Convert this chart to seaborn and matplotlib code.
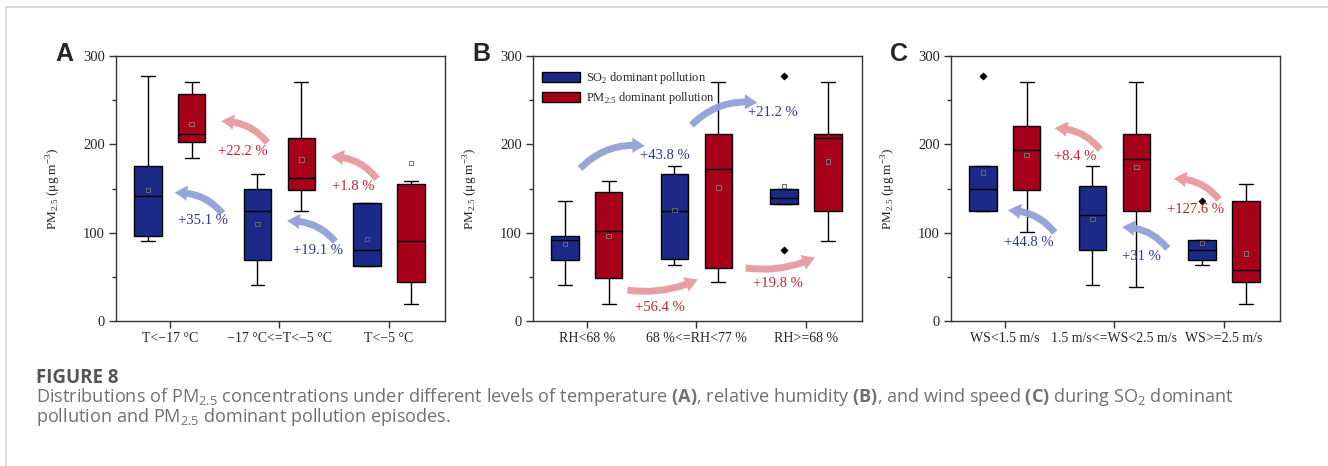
import numpy as np
import pandas as pd
import matplotlib
matplotlib.use("Agg")
import matplotlib.pyplot as plt
import seaborn as sns
from matplotlib.patches import FancyArrowPatch
from matplotlib.lines import Line2D
from matplotlib.ticker import MultipleLocator

# ---------------- data ----------------
temp_cats = ["T<\u221217 \u00b0C", "\u221217 \u00b0C<=T<\u22125 \u00b0C", "T<\u22125 \u00b0C"]
rh_cats = ["RH<68 %", "68 %<=RH<77 %", "RH>=68 %"]
ws_cats = ["WS<1.5 m/s", "1.5 m/s<=WS<2.5 m/s", "WS>=2.5 m/s"]

groups = ["SO$_2$ dominant pollution", "PM$_{2.5}$ dominant pollution"]

# five-number summaries: [lower whisker, Q1, median, Q3, upper whisker]
temp_so2 = [[91, 96, 142, 175, 277], [41, 69, 124, 149, 166], [62.5, 62.5, 80, 134, 134]]
temp_pm = [[184, 203, 212, 257, 270], [125, 148, 162, 207, 270], [19, 44, 91, 155, 159]]
temp_so2_mean = [148.5, 110, 93]
temp_pm_mean = [223, 183, 179]
temp_so2_out = [[], [], []]

rh_so2 = [[41, 69, 91.6, 96, 136], [63, 70, 125, 166, 176], [133, 133, 139, 149, 149]]
rh_pm = [[19, 48.6, 102, 145.5, 159], [44, 60, 172.6, 212, 270], [91, 125, 207, 212, 270]]
rh_so2_mean = [87, 126, 153]
rh_pm_mean = [96.5, 151, 180.5]
rh_so2_out = [[], [], [277, 80]]

ws_so2 = [[124, 125, 150, 175, 175], [41, 80.7, 119.5, 152.6, 176], [63, 69, 80, 92, 92]]
ws_pm = [[101, 148, 194, 221, 270], [39, 125, 183.6, 212, 270], [19, 44, 58, 136, 155]]
ws_so2_mean = [168, 115.7, 88.6]
ws_pm_mean = [188, 174, 76.5]
ws_so2_out = [[277], [], [136]]

temp_changes = ["+22.2 %", "+1.8 %", "+35.1 %", "+19.1 %"]
rh_changes = ["+43.8 %", "+21.2 %", "+56.4 %", "+19.8 %"]
ws_changes = ["+8.4 %", "+127.6 %", "+44.8 %", "+31 %"]

# ---------------- style ----------------
sns.set_theme(style="ticks")
plt.rcParams["font.family"] = ["Liberation Serif", "DejaVu Serif"]
plt.rcParams["mathtext.fontset"] = "custom"
plt.rcParams["mathtext.rm"] = "Liberation Serif"
plt.rcParams["mathtext.sf"] = "Open Sans"
plt.rcParams["mathtext.bf"] = "Open Sans:bold"

BLUE = "#1a2a86"
RED = "#a6001a"
ARROW_BLUE = "#93a0d8"
ARROW_RED = "#e8999f"
TXT_BLUE = "#2b3896"
TXT_RED = "#c1272d"

fig = plt.figure(figsize=(13.28, 4.66), dpi=100)

panels = [
    dict(letter="A", cats=temp_cats, so2=temp_so2, pm=temp_pm, so2m=temp_so2_mean, pmm=temp_pm_mean,
         out=temp_so2_out, changes=temp_changes, left=116,
         arrows=[((0.89, 202), (0.47, 226), "r", 0.25), ((1.89, 161), (1.47, 186), "r", 0.25),
                 ((0.48, 122), (0.045, 145), "b", 0.25), ((1.51, 90), (1.07, 113), "b", 0.25)],
         tpos=[(0.67, 191.5, "r"), (1.67, 152, "r"), (0.30, 114, "b"), (1.35, 80, "b")]),
    dict(letter="B", cats=rh_cats, so2=rh_so2, pm=rh_pm, so2m=rh_so2_mean, pmm=rh_pm_mean,
         out=rh_so2_out, changes=rh_changes, left=533,
         arrows=[((-0.06, 172.6), (0.53, 198), "b", -0.25), ((0.955, 221.6), (1.555, 247), "b", -0.25),
                 ((0.37, 35), (1.01, 47), "r", 0.15), ((1.45, 60), (2.08, 72), "r", 0.15)],
         tpos=[(0.71, 187, "b"), (1.70, 235.6, "b"), (0.67, 15.5, "r"), (1.745, 42, "r")]),
    dict(letter="C", cats=ws_cats, so2=ws_so2, pm=ws_pm, so2m=ws_so2_mean, pmm=ws_pm_mean,
         out=ws_so2_out, changes=ws_changes, left=951,
         arrows=[((0.87, 194), (0.455, 218), "r", 0.25), ((1.955, 137.6), (1.54, 161), "r", 0.25),
                 ((0.455, 100), (0.03, 125), "b", 0.25), ((1.485, 82), (1.07, 106), "b", 0.25)],
         tpos=[(0.64, 186, "r"), (1.74, 126.6, "r"), (0.22, 89, "b"), (1.25, 73, "b")]),
]

W, H = 1328, 466
for p in panels:
    ax = fig.add_axes([p["left"] / W, (H - 321) / H, 329 / W, 265 / H])
    rows = []
    for i, c in enumerate(p["cats"]):
        for v in p["so2"][i]:
            rows.append((c, groups[0], v))
        for v in p["pm"][i]:
            rows.append((c, groups[1], v))
    df = pd.DataFrame(rows, columns=["cat", "group", "value"])
    sns.boxplot(data=df, x="cat", y="value", hue="group", order=p["cats"], hue_order=groups,
                palette=[BLUE, RED], saturation=1, width=0.8, gap=0.375, whis=(0, 100),
                showfliers=False, linecolor="black", linewidth=1.0, ax=ax,
                legend=(p["letter"] == "B"))
    xs = np.arange(len(p["cats"]))
    ax.scatter(xs - 0.2, p["so2m"], marker="s", s=10, facecolors="none", edgecolors="#666666",
               linewidths=0.7, zorder=5)
    ax.scatter(xs + 0.2, p["pmm"], marker="s", s=10, facecolors="none", edgecolors="#777777",
               linewidths=0.7, zorder=5)
    for i, outs in enumerate(p["out"]):
        if outs:
            ax.scatter([xs[i] - 0.2] * len(outs), outs, marker="D", s=10, color="black", zorder=5)

    for (tail, head, col, rad) in p["arrows"]:
        arr = FancyArrowPatch(tail, head, connectionstyle=f"arc3,rad={rad}",
                              arrowstyle="simple,head_length=0.45,head_width=0.55,tail_width=0.25",
                              mutation_scale=20, color=ARROW_BLUE if col == "b" else ARROW_RED,
                              alpha=0.95, lw=0, shrinkA=0, shrinkB=0, zorder=4)
        ax.add_patch(arr)
    for lab, (tx, ty, col) in zip(p["changes"], p["tpos"]):
        ax.text(tx, ty, lab, ha="center", va="center", fontsize=10.5,
                color=TXT_BLUE if col == "b" else TXT_RED, zorder=6)

    ax.set_ylim(0, 300)
    ax.set_xlim(-0.49, 2.51)
    ax.yaxis.set_major_locator(MultipleLocator(100))
    ax.yaxis.set_minor_locator(MultipleLocator(50))
    ax.tick_params(axis="both", which="major", length=5, width=1, color="#333333",
                   labelsize=10.5, pad=3)
    ax.tick_params(axis="y", which="minor", length=3, width=1, color="#333333")
    ax.tick_params(axis="x", labelsize=10)
    for s in ax.spines.values():
        s.set_color("#333333")
        s.set_linewidth(1)
    ax.set_xlabel("")
    ax.set_ylabel("PM$_{2.5}$ (\u03bcg m$^{-3}$)", fontsize=9.5)
    ax.yaxis.set_label_coords(-0.16, 0.5)

    if p["letter"] == "B":
        ax.legend(loc="upper left", bbox_to_anchor=(0.0, 0.98), frameon=False, fontsize=8.9,
                  handlelength=3.1, handleheight=0.9, labelspacing=0.35, handletextpad=0.5,
                  borderaxespad=0.3)

    fig.text((p["left"] - 61) / W, (H - 61) / H, p["letter"], fontsize=18, fontweight="bold",
             family="Liberation Sans", ha="left", va="baseline")

# frame lines
fig.add_artist(Line2D([6 / W, 1], [(H - 7) / H, (H - 7) / H], color="#d6d6d6", lw=1.2))
fig.add_artist(Line2D([6 / W, 6 / W], [0, (H - 7) / H], color="#d6d6d6", lw=1.2))

# caption
fig.text(36 / W, (H - 383) / H, "FIGURE 8", fontsize=13.5, fontweight="bold", color="#555555",
         family="Open Sans", va="baseline")
fig.text(36 / W, (H - 402) / H,
         r"Distributions of PM$_{\mathsf{2.5}}$ concentrations under different levels of temperature "
         r"$\mathbf{(A)}$, relative humidity $\mathbf{(B)}$, and wind speed $\mathbf{(C)}$ during "
         r"SO$_{\mathsf{2}}$ dominant",
         fontsize=13.1, color="#707070", family="Open Sans", va="baseline")
fig.text(36 / W, (H - 422) / H,
         r"pollution and PM$_{\mathsf{2.5}}$ dominant pollution episodes.",
         fontsize=13.1, color="#707070", family="Open Sans", va="baseline")

fig.savefig("out.png", dpi=100)
